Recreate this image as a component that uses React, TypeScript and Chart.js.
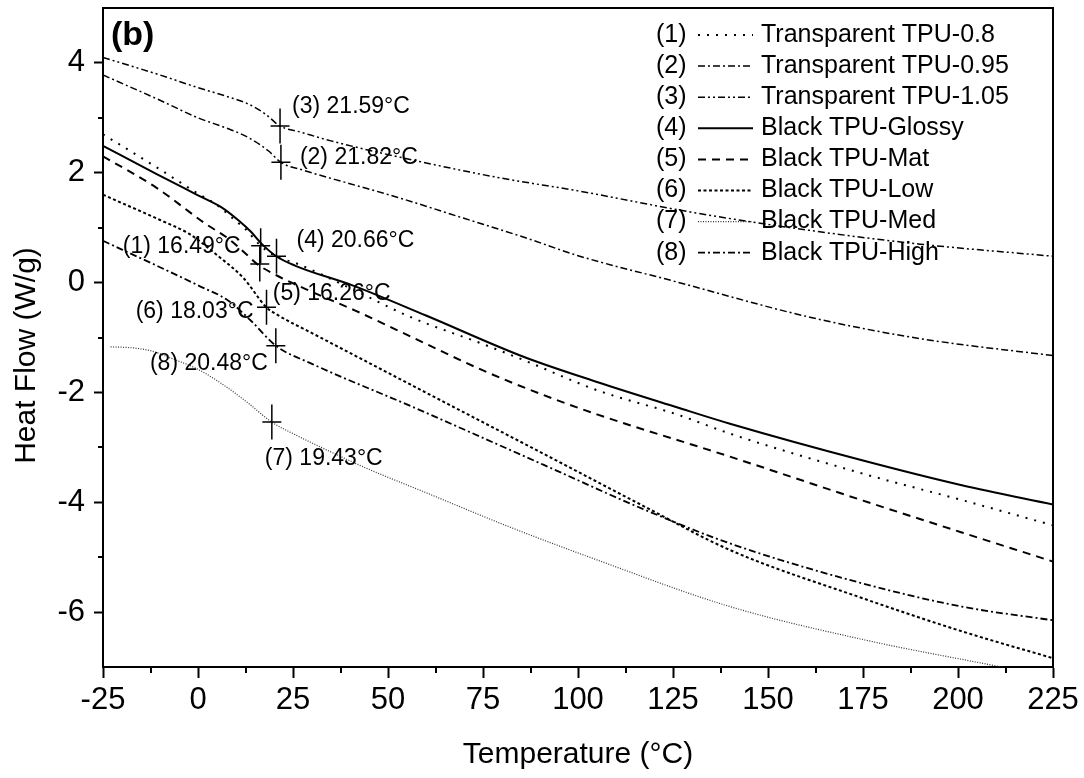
import React, { useEffect, useRef } from "react";
import { Chart, registerables } from "chart.js";

Chart.register(...registerables);

const FONT = "'Liberation Sans', Arial, Helvetica, sans-serif";

// ---------------- data ----------------
const tpu080Temp = [-25, -10, 0, 4.6, 10, 12.4, 16.5, 21, 25.5, 40, 56, 75, 86, 105, 126, 140, 175, 201, 225];
const tpu080Heat = [2.7, 2.06, 1.62, 1.43, 1.12, 0.98, 0.67, 0.46, 0.36, -0.1, -0.63, -1.12, -1.42, -1.96, -2.4, -2.75, -3.48, -3.96, -4.42];

const tpu095Temp = [-25, -10, 0, 8, 13.3, 18.5, 21.8, 28, 40, 52.6, 70, 86, 100, 125, 161, 190, 225];
const tpu095Heat = [3.78, 3.32, 3.0, 2.8, 2.64, 2.4, 2.19, 2.04, 1.8, 1.55, 1.17, 0.82, 0.49, 0.03, -0.63, -1.02, -1.33];

const tpu105Temp = [-25, -10, 0, 8, 13.3, 17.7, 21.6, 27, 35, 61.3, 80, 100, 130, 161, 190, 225];
const tpu105Heat = [4.1, 3.78, 3.55, 3.38, 3.25, 3.07, 2.85, 2.74, 2.58, 2.16, 1.9, 1.67, 1.28, 0.95, 0.7, 0.48];

const glossyTemp = [-25, -11, 0, 6.2, 10.7, 14, 16.7, 20.6, 25.5, 41, 60, 86, 105, 126, 140, 175, 201, 225];
const glossyHeat = [2.49, 1.98, 1.59, 1.37, 1.13, 0.92, 0.71, 0.48, 0.31, -0.06, -0.6, -1.36, -1.81, -2.27, -2.57, -3.24, -3.69, -4.04];

const matTemp = [-25, -11, 2, 8, 12.5, 15.5, 21, 30, 41.4, 56.2, 75, 91, 105, 140, 175, 201, 225];
const matHeat = [2.3, 1.73, 1.07, 0.8, 0.53, 0.34, 0.12, -0.17, -0.51, -0.99, -1.6, -2.05, -2.4, -3.17, -3.97, -4.55, -5.08];

const lowTemp = [-25, -10, -2.4, 5, 12, 18, 21.2, 30, 56, 91, 117, 140, 175, 201, 225];
const lowHeat = [1.6, 1.14, 0.89, 0.5, 0.08, -0.45, -0.6, -0.92, -1.86, -3.12, -4.06, -4.87, -5.75, -6.35, -6.84];

const medTemp = [-23, -17, -12, -7, 0, 6.2, 13.3, 19.4, 25, 32.4, 45, 60.5, 82, 105, 140, 175, 210, 225];
const medHeat = [-1.17, -1.19, -1.25, -1.38, -1.58, -1.84, -2.2, -2.54, -2.75, -3.0, -3.4, -3.84, -4.45, -5.05, -5.9, -6.5, -6.98, -7.18];

const highTemp = [-25, -10, 0, 8, 14, 20.5, 30, 56, 91, 117, 140, 175, 201, 225];
const highHeat = [0.76, 0.28, -0.05, -0.33, -0.7, -1.15, -1.48, -2.25, -3.32, -4.12, -4.75, -5.48, -5.9, -6.15];

const seriesNames = [
  "Transparent TPU-0.8",
  "Transparent TPU-0.95",
  "Transparent TPU-1.05",
  "Black TPU-Glossy",
  "Black TPU-Mat",
  "Black TPU-Low",
  "Black TPU-Med",
  "Black TPU-High",
];
const seriesTemps = [tpu080Temp, tpu095Temp, tpu105Temp, glossyTemp, matTemp, lowTemp, medTemp, highTemp];
const seriesHeats = [tpu080Heat, tpu095Heat, tpu105Heat, glossyHeat, matHeat, lowHeat, medHeat, highHeat];

// glass-transition markers
const markerTemps = [16.49, 21.82, 21.59, 20.66, 16.26, 18.03, 19.43, 20.48];
const markerHeats = [0.67, 2.19, 2.85, 0.48, 0.34, -0.45, -2.54, -1.15];
const markerLabels = [
  "(1) 16.49°C",
  "(2) 21.82°C",
  "(3) 21.59°C",
  "(4) 20.66°C",
  "(5) 16.26°C",
  "(6) 18.03°C",
  "(7) 19.43°C",
  "(8) 20.48°C",
];

const xTickValues = [-25, 0, 25, 50, 75, 100, 125, 150, 175, 200, 225];
const xMinorValues = [-12.5, 12.5, 37.5, 62.5, 87.5, 112.5, 137.5, 162.5, 187.5, 212.5];
const yTickValues = [-6, -4, -2, 0, 2, 4];
const yMinorValues = [-5, -3, -1, 1, 3];

// ---------------- styles / layout ----------------
const lineStyles = [
  { dash: [2, 7], width: 2, color: "#000" },
  { dash: [7, 3, 2, 3], width: 1.5, color: "#000" },
  { dash: [7, 3, 2, 3, 2, 3], width: 1.5, color: "#000" },
  { dash: [], width: 2, color: "#000" },
  { dash: [8, 6], width: 2, color: "#000" },
  { dash: [3, 2.5], width: 2, color: "#000" },
  { dash: [1, 1.5], width: 1.2, color: "#333" },
  { dash: [7, 3, 2, 3], width: 1.8, color: "#000" },
];

// label offsets relative to marker (px) and alignment
const labelLayout = [
  { dx: -20, dy: 1, align: "right" },
  { dx: 19, dy: -5, align: "left" },
  { dx: 12, dy: -19, align: "left" },
  { dx: 20, dy: -16, align: "left" },
  { dx: 13, dy: 30, align: "left" },
  { dx: -13, dy: 4, align: "right" },
  { dx: -7, dy: 37, align: "left" },
  { dx: -8, dy: 18, align: "right" },
];

const extrasPlugin = {
  id: "extras",
  afterDatasetsDraw(chart: any) {
    const { ctx, scales } = chart;
    const xs = scales.x;
    const ys = scales.y;
    ctx.save();
    // markers
    ctx.strokeStyle = "#000";
    ctx.lineWidth = 1.5;
    ctx.setLineDash([]);
    for (let i = 0; i < markerTemps.length; i++) {
      const px = xs.getPixelForValue(markerTemps[i]);
      const py = ys.getPixelForValue(markerHeats[i]);
      ctx.beginPath();
      ctx.moveTo(px - 9.5, py);
      ctx.lineTo(px + 9.5, py);
      ctx.moveTo(px, py - 17.5);
      ctx.lineTo(px, py + 17.5);
      ctx.stroke();
      const L = labelLayout[i];
      ctx.font = `23px ${FONT}`;
      ctx.fillStyle = "#000";
      ctx.textAlign = L.align as CanvasTextAlign;
      ctx.textBaseline = "middle";
      ctx.fillText(markerLabels[i], px + L.dx, py + L.dy);
    }
    // legend
    const rowY0 = 35;
    const rowStep = 31.1;
    for (let i = 0; i < seriesNames.length; i++) {
      const y = rowY0 + i * rowStep;
      ctx.font = `25px ${FONT}`;
      ctx.fillStyle = "#000";
      ctx.textAlign = "left";
      ctx.textBaseline = "middle";
      ctx.fillText(`(${i + 1})`, 656, y);
      const st = lineStyles[i];
      ctx.strokeStyle = st.color;
      ctx.lineWidth = st.width;
      ctx.setLineDash(st.dash);
      ctx.beginPath();
      ctx.moveTo(698, y);
      ctx.lineTo(753, y);
      ctx.stroke();
      ctx.setLineDash([]);
      ctx.fillText(seriesNames[i], 761, y);
    }
    ctx.restore();
  },
  afterDraw(chart: any) {
    const { ctx, chartArea: a, scales } = chart;
    const xs = scales.x;
    const ys = scales.y;
    ctx.save();
    ctx.strokeStyle = "#000";
    ctx.setLineDash([]);
    // frame top/right
    ctx.lineWidth = 2;
    ctx.beginPath();
    ctx.moveTo(a.left, a.top);
    ctx.lineTo(a.right, a.top);
    ctx.lineTo(a.right, a.bottom);
    ctx.stroke();
    // minor ticks
    ctx.beginPath();
    for (const v of xMinorValues) {
      const px = Math.round(xs.getPixelForValue(v));
      ctx.moveTo(px, a.bottom);
      ctx.lineTo(px, a.bottom + 6);
    }
    for (const v of yMinorValues) {
      const py = Math.round(ys.getPixelForValue(v));
      ctx.moveTo(a.left, py);
      ctx.lineTo(a.left - 5, py);
    }
    ctx.stroke();
    // y title
    ctx.fillStyle = "#000";
    ctx.font = `30px ${FONT}`;
    ctx.textAlign = "center";
    ctx.textBaseline = "middle";
    ctx.translate(27, (a.top + a.bottom) / 2 + 18);
    ctx.rotate(-Math.PI / 2);
    ctx.fillText("Heat Flow (W/g)", 0, 0);
    ctx.restore();
    // panel label
    ctx.save();
    ctx.fillStyle = "#000";
    ctx.font = `bold 34px ${FONT}`;
    ctx.textAlign = "left";
    ctx.textBaseline = "middle";
    ctx.fillText("(b)", a.left + 8, a.top + 28);
    ctx.restore();
  },
};

export default function App() {
  const ref = useRef<HTMLCanvasElement>(null);
  useEffect(() => {
    const datasets = seriesNames.map((name, i) => ({
      label: name,
      data: seriesTemps[i].map((t, j) => ({ x: t, y: seriesHeats[i][j] })),
      showLine: true,
      borderColor: lineStyles[i].color,
      borderWidth: lineStyles[i].width,
      borderDash: lineStyles[i].dash,
      pointRadius: 0,
      pointHoverRadius: 0,
      cubicInterpolationMode: "monotone" as const,
      fill: false,
    }));
    const chart = new Chart(ref.current as HTMLCanvasElement, {
      type: "scatter",
      data: { datasets },
      options: {
        responsive: false,
        animation: false,
        events: [],
        layout: { padding: { top: 8, right: 31, bottom: 0, left: 0 } },
        plugins: { legend: { display: false }, tooltip: { enabled: false } },
        scales: {
          x: {
            type: "linear",
            min: -25,
            max: 225,
            afterBuildTicks: (s: any) => {
              s.ticks = xTickValues.map((v) => ({ value: v }));
            },
            afterFit: (s: any) => {
              s.height = 111;
              s.paddingLeft = 0;
              s.paddingRight = 0;
            },
            ticks: {
              autoSkip: false,
              maxRotation: 0,
              color: "#000",
              padding: 4,
              font: { family: FONT, size: 31 },
            },
            grid: { display: true, drawOnChartArea: false, tickLength: 11, tickWidth: 2, tickColor: "#000" },
            border: { display: true, color: "#000", width: 2 },
            title: {
              display: true,
              text: "Temperature (°C)",
              color: "#000",
              font: { family: FONT, size: 30 },
              padding: { top: 0, bottom: 5 },
            },
          },
          y: {
            type: "linear",
            min: -7,
            max: 5,
            afterBuildTicks: (s: any) => {
              s.ticks = yTickValues.map((v) => ({ value: v }));
            },
            afterFit: (s: any) => {
              s.width = 103;
              s.paddingTop = 0;
              s.paddingBottom = 0;
            },
            ticks: {
              autoSkip: false,
              color: "#000",
              padding: 9,
              font: { family: FONT, size: 31 },
            },
            grid: { display: true, drawOnChartArea: false, tickLength: 9, tickWidth: 2, tickColor: "#000" },
            border: { display: true, color: "#000", width: 2 },
          },
        },
      },
      plugins: [extrasPlugin],
    });
    return () => chart.destroy();
  }, []);
  return (
    <div style={{ position: "fixed", left: 0, top: 0, width: 1084, height: 778, background: "#fff" }}>
      <canvas ref={ref} width={1084} height={778} style={{ display: "block", width: 1084, height: 778 }} />
    </div>
  );
}
